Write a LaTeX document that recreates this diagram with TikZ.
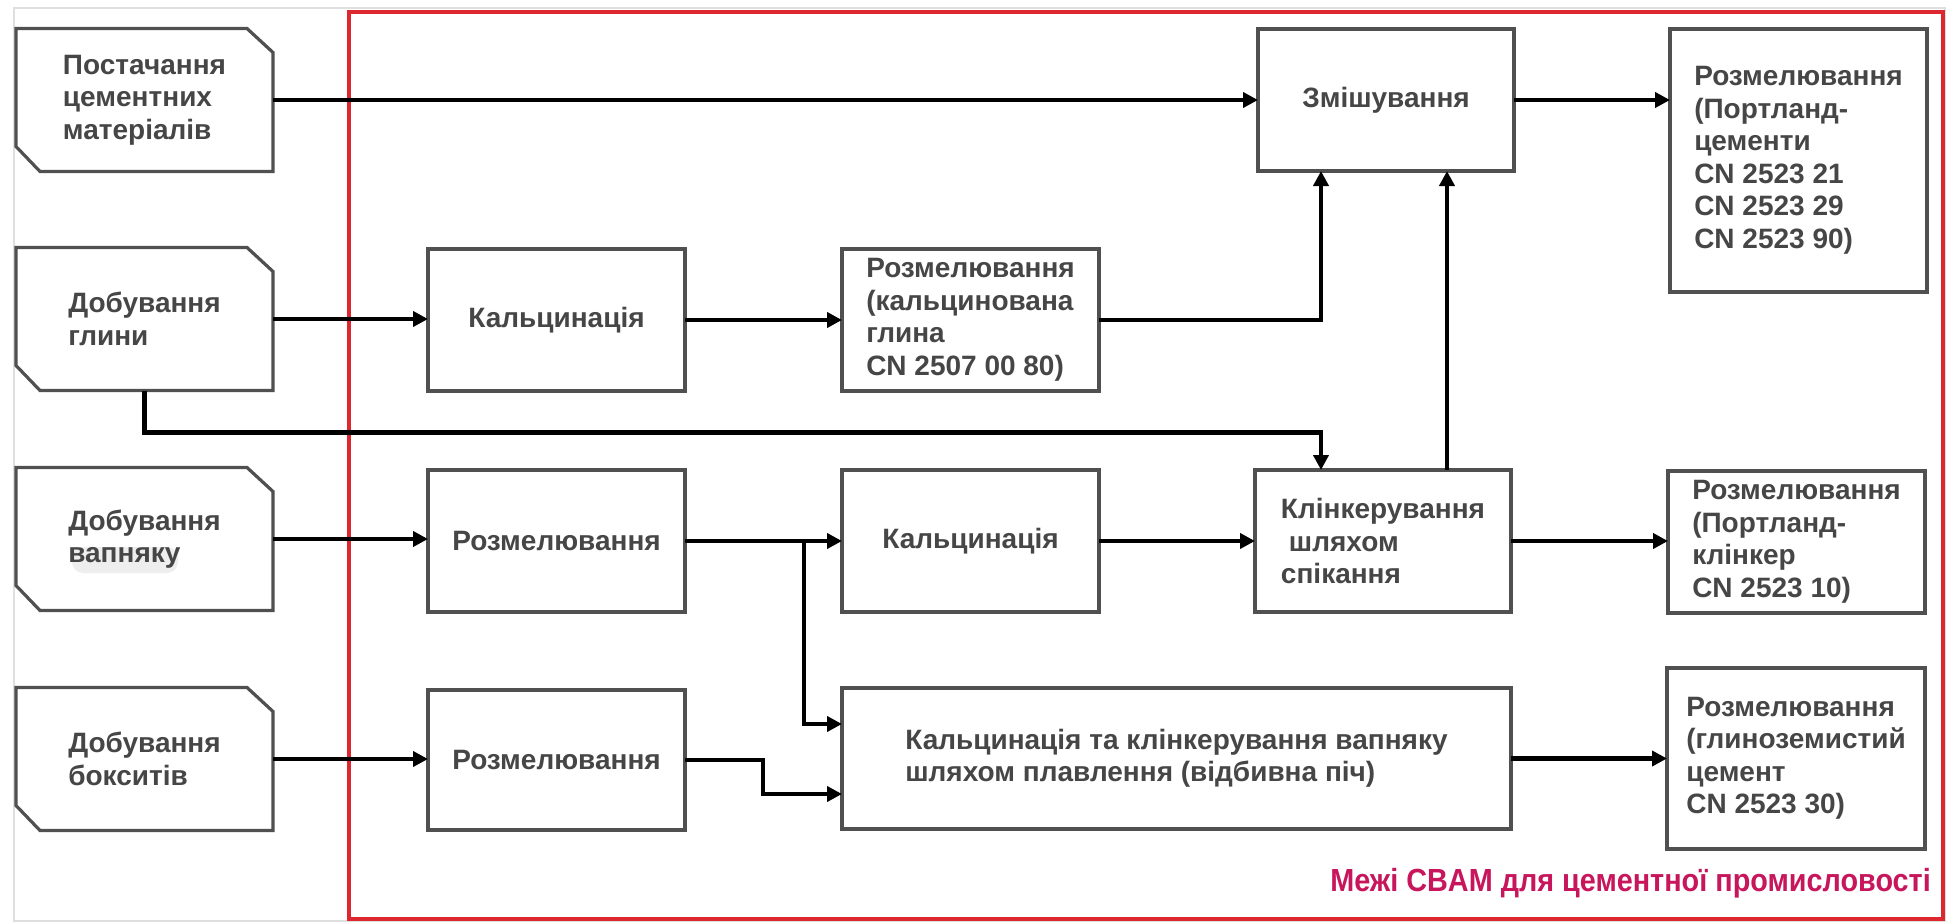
\documentclass[tikz,border=0pt]{standalone}
\usepackage{fontspec}
\usepackage{graphicx}
\setmainfont{Liberation Sans}
\usetikzlibrary{arrows.meta,calc}
\definecolor{txt}{RGB}{70,70,70}
\definecolor{bord}{RGB}{80,80,80}
\definecolor{cbam}{RGB}{200,22,92}
\definecolor{redf}{RGB}{222,40,48}
\newcommand\bxfont{\fontsize{28}{32.5}\selectfont\bfseries}
\newcommand\chamferbox[1]{\draw[draw=bord,line width=3.2pt,line join=miter] (#1.north west) -- ($(#1.north east)+(-26,0)$) -- ($(#1.north east)+(0,24)$) -- (#1.south east) -- ($(#1.south west)+(24,0)$) -- ($(#1.south west)+(0,-25)$) -- cycle;}
\begin{document}
\begin{tikzpicture}[x=1pt,y=-1pt,
  box/.style={draw=bord, line width=3.2pt, inner sep=0pt, outer sep=0pt, text=txt, font=\bxfont, align=center},
  lbox/.style={box, align=left},
  src/.style={inner sep=0pt, outer sep=0pt, text=txt, font=\bxfont, align=left, minimum width=257, minimum height=143},
  conn/.style={line width=4.2pt, line join=miter, -{Triangle[length=15pt,width=15pt]}},
  ]
\useasboundingbox (0,0) rectangle (1947,923);
\fill[white] (0,0) rectangle (1947,923);
\draw[gray!25, line width=1.5pt] (14,8) rectangle (1945,921);
\draw[redf, line width=3.5pt] (349,12) rectangle (1943,919);

% highlight behind "вапняку"
\fill[gray!13, rounded corners=11pt] (72,547) rectangle (178,573);

% source boxes
\node[src] (s1) at (144.5,100) {Постачання\\цементних\\матеріалів};
\node[src] (s2) at (144.5,319) {Добування\\глини};
\node[src] (s3) at (144.5,539) {Добування\\вапняку};
\node[src] (s4) at (144.5,759) {Добування\\бокситів};
\chamferbox{s1}
\chamferbox{s2}
\chamferbox{s3}
\chamferbox{s4}

% process boxes
\node[box, minimum width=257, minimum height=142] (k1) at (556.5,320) {Кальцинація};
\node[lbox, minimum width=257, minimum height=142] (r1) at (970.5,320) {Розмелювання\\(кальцинована\\глина\\CN 2507 00 80)};
\node[box, minimum width=256, minimum height=142] (zm) at (1386,100) {Змішування};
\node[lbox, minimum width=257, minimum height=263] (o1) at (1798.5,160.5) {Розмелювання\\(Портланд-\\цементи\\CN 2523 21\\CN 2523 29\\CN 2523 90)};

\node[box, minimum width=257, minimum height=142] (r2) at (556.5,541) {Розмелювання};
\node[box, minimum width=257, minimum height=142] (k2) at (970.5,541) {Кальцинація};
\node[lbox, minimum width=256, minimum height=142] (kl) at (1383,541) {Клінкерування\\\hspace{8pt}шляхом\\спікання};
\node[lbox, minimum width=257, minimum height=142] (o2) at (1796.5,542) {Розмелювання\\(Портланд-\\клінкер\\CN 2523 10)};

\node[box, minimum width=257, minimum height=140] (r3) at (556.5,760) {Розмелювання};
\node[lbox, minimum width=669, minimum height=141] (big) at (1176.5,758.5) {Кальцинація та клінкерування вапняку\\шляхом плавлення (відбивна піч)};
\node[lbox, minimum width=258, minimum height=181] (o3) at (1796,758.5) {Розмелювання\\(глиноземистий\\цемент\\CN 2523 30)};

% boundary label
\node[anchor=east, inner sep=0pt, text=cbam, font=\fontsize{32}{36}\selectfont\bfseries] (lbl) at (1931,883) {\scalebox{0.9}[1]{Межі CBAM для цементної промисловості}};

% connectors
\coordinate (j1) at (1321,0);
\coordinate (j3) at (1447,0);
\coordinate (b1) at (804,0);
\draw[conn] (s1.east) -- (zm.west);
\draw[conn] (zm.east) -- (zm.east -| o1.west);
\draw[conn] (s2.east) -- (s2.east -| k1.west);
\draw[conn] (k1) -- (r1);
\draw[conn] (r1.east) -| (j1 |- zm.south);
\draw[conn] (s2.south) -- ++(0,42) -| (j1 |- kl.north);
\draw[conn] (j3 |- kl.north) -- (j3 |- zm.south);
\draw[conn] (s3.east) -- (s3.east -| r2.west);
\draw[conn] (r2) -- (k2);
\draw[conn] (k2) -- (kl);
\draw[conn] (kl.east) -- (kl.east -| o2.west);
\draw[conn] (r2.east -| b1) |- ($(big.west)+(0,-34.5)$);
\draw[conn] (s4.east) -- (s4.east -| r3.west);
\draw[conn] (r3.east) -- ++(78,0) |- ($(big.west)+(0,35.5)$);
\draw[conn] (big.east) -- (big.east -| o3.west);
\end{tikzpicture}
\end{document}
